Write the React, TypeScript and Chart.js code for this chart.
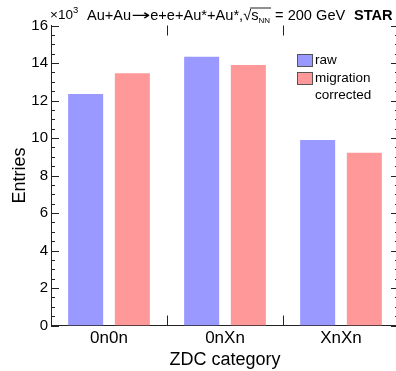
import React, { useEffect, useRef } from 'react';
import { Chart, registerables } from 'chart.js';

Chart.register(...registerables);

const categories = ['0n0n', '0nXn', 'XnXn'];
const rawValues = [12.35, 14.34, 9.89];
const correctedValues = [13.45, 13.89, 9.22];
const seriesLabels = ['raw', ['migration', 'corrected']];
const yMin = 0;
const yMax = 16;
const yMajorStep = 2;
const yMinorStep = 0.5;
const xTitle = 'ZDC category';
const yTitle = 'Entries';
const exponentText = '×10';
const exponentPower = '3';
const titleA = 'Au+Au';
const titleArrow = '→';
const titleB = 'e+e+Au*+Au*,';
const titleSqrt = '√';
const titleS = 's';
const titleSub = 'NN';
const titleTail = ' = 200 GeV';
const starText = 'STAR';

const FONT = '"Liberation Sans", Arial, Helvetica, sans-serif';
const BLUE = 'rgb(153,153,255)';
const RED = 'rgb(255,153,153)';

const decoPlugin = {
  id: 'deco',
  afterDraw(chart: any) {
    const { ctx, chartArea: a, scales } = chart;
    const ys = scales.y;
    const xs = scales.x;
    ctx.save();
    // inward ticks
    ctx.strokeStyle = '#222';
    ctx.lineWidth = 1;
    ctx.beginPath();
    for (let v = yMin; v <= yMax + 1e-6; v += yMinorStep) {
      const py = Math.round(ys.getPixelForValue(v)) + 0.5;
      const major = Math.abs(v / yMajorStep - Math.round(v / yMajorStep)) < 1e-6;
      const len = major ? 8 : 4;
      ctx.moveTo(a.left, py);
      ctx.lineTo(a.left + len, py);
      ctx.moveTo(a.right, py);
      ctx.lineTo(a.right - len, py);
    }
    for (let i = 0; i < categories.length - 1; i++) {
      const px = Math.round((xs.getPixelForValue(i) + xs.getPixelForValue(i + 1)) / 2) + 0.5;
      ctx.moveTo(px, a.bottom);
      ctx.lineTo(px, a.bottom - 10);
      ctx.moveTo(px, a.top);
      ctx.lineTo(px, a.top + 10);
    }
    ctx.stroke();

    // exponent
    ctx.fillStyle = '#000';
    ctx.textBaseline = 'alphabetic';
    ctx.textAlign = 'left';
    ctx.font = `13.5px ${FONT}`;
    let ex = a.left - 1;
    ctx.fillText(exponentText, ex, 19);
    ex += ctx.measureText(exponentText).width;
    ctx.font = `9.5px ${FONT}`;
    ctx.fillText(exponentPower, ex, 13);

    // title
    const ty = 20;
    let tx = 87;
    const tf = `14.6px ${FONT}`;
    ctx.font = tf;
    ctx.fillText(titleA, tx, ty);
    tx += ctx.measureText(titleA).width;
    // arrow, stretched horizontally
    ctx.font = `14.6px "DejaVu Sans", ${FONT}`;
    const aw = ctx.measureText(titleArrow).width;
    const sx = 19 / aw;
    ctx.save();
    ctx.translate(tx, ty);
    ctx.scale(sx, 1);
    ctx.fillText(titleArrow, 0, 0);
    ctx.restore();
    tx += aw * sx;
    ctx.font = tf;
    ctx.fillText(titleB, tx, ty);
    tx += ctx.measureText(titleB).width;
    ctx.fillText(titleSqrt, tx, ty);
    const sqrtW = ctx.measureText(titleSqrt).width;
    tx += sqrtW;
    const olStart = tx - 1;
    ctx.fillText(titleS, tx, ty);
    tx += ctx.measureText(titleS).width;
    ctx.font = `8px ${FONT}`;
    ctx.fillText(titleSub, tx, ty + 3);
    tx += ctx.measureText(titleSub).width + 1;
    ctx.beginPath();
    ctx.moveTo(olStart, ty - 12);
    ctx.lineTo(tx, ty - 12);
    ctx.stroke();
    ctx.font = tf;
    ctx.fillText(titleTail, tx, ty);
    ctx.font = `bold 14.6px ${FONT}`;
    ctx.fillText(starText, 354, ty);

    // legend
    const boxX = 297;
    const boxW = 15;
    const boxH = 12;
    const textX = 315;
    const rows = [54, 72];
    chart.data.datasets.forEach((ds: any, i: number) => {
      const by = rows[i];
      ctx.fillStyle = ds.backgroundColor;
      ctx.fillRect(boxX, by, boxW, boxH);
      ctx.strokeStyle = '#555';
      ctx.strokeRect(boxX + 0.5, by + 0.5, boxW, boxH);
      ctx.fillStyle = '#000';
      ctx.font = `13.5px ${FONT}`;
      ctx.textBaseline = 'middle';
      const lines = Array.isArray(ds.label) ? ds.label : [ds.label];
      lines.forEach((ln: string, j: number) => {
        ctx.fillText(ln, textX, by + boxH / 2 + j * 17);
      });
    });
    ctx.restore();
  },
};

export default function App() {
  const ref = useRef<HTMLCanvasElement | null>(null);
  useEffect(() => {
    if (!ref.current) return;
    const chart = new Chart(ref.current, {
      type: 'bar',
      data: {
        labels: categories,
        datasets: [
          { label: seriesLabels[0] as any, data: rawValues, backgroundColor: BLUE, borderWidth: 0 },
          { label: seriesLabels[1] as any, data: correctedValues, backgroundColor: RED, borderWidth: 0 },
        ],
      },
      options: {
        responsive: false,
        animation: false,
        devicePixelRatio: 1,
        layout: { padding: { left: 0, right: 11, top: 25.5, bottom: 0 } },
        plugins: { legend: { display: false }, tooltip: { enabled: false } },
        datasets: { bar: { categoryPercentage: 0.805, barPercentage: 0.75 } },
        scales: {
          x: {
            type: 'category',
            grid: { display: false, drawTicks: false },
            border: { display: true, color: '#222', width: 1 },
            ticks: { color: '#000', font: { family: FONT, size: 17 }, padding: 3, maxRotation: 0 },
            title: { display: true, text: xTitle, color: '#000', font: { family: FONT, size: 18 }, padding: { top: 0, bottom: 0 } },
            afterFit: (s: any) => { s.height = 45.5; },
          },
          y: {
            min: yMin,
            max: yMax,
            grid: { display: false, drawTicks: false },
            border: { display: true, color: '#222', width: 1 },
            ticks: { stepSize: yMajorStep, color: '#000', font: { family: FONT, size: 15 }, padding: 3 },
            title: { display: true, text: yTitle, color: '#000', font: { family: FONT, size: 18 }, padding: { top: 9, bottom: 9 } },
            afterFit: (s: any) => { s.width = 51; },
          },
        },
      },
      plugins: [decoPlugin],
    });
    return () => chart.destroy();
  }, []);
  return (
    <div style={{ position: 'fixed', left: 0, top: 0, width: 396, height: 371, overflow: 'hidden', background: '#fff' }}>
      <canvas ref={ref} width={410} height={371} style={{ width: 410, height: 371, display: 'block' }} />
    </div>
  );
}
